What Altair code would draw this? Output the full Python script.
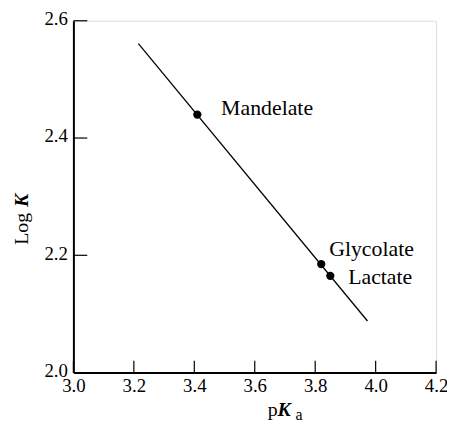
import altair as alt
import pandas as pd

# data
names = ["Mandelate", "Glycolate", "Lactate"]
pka = [3.41, 3.82, 3.85]
logk = [2.44, 2.185, 2.165]
fit_x = [3.215, 3.973]
fit_y = [2.561, 2.088]
x_ticks = [3.0, 3.2, 3.4, 3.6, 3.8, 4.0, 4.2]
y_ticks = [2.0, 2.2, 2.4, 2.6]

pts = pd.DataFrame({"name": names, "pka": pka, "logk": logk})
fit = pd.DataFrame({"pka": fit_x, "logk": fit_y})
xt = pd.DataFrame({"v": x_ticks})
yt = pd.DataFrame({"v": y_ticks})

W, H = 366, 355
SERIF = "Liberation Serif"

xs = alt.Scale(domain=[3.0, 4.2], nice=False, zero=False)
ys = alt.Scale(domain=[2.0, 2.6], nice=False, zero=False)

xaxis = alt.Axis(values=x_ticks, format=".1f", title=None, grid=False, tickSize=0,
                 labelFont=SERIF, labelFontSize=19, labelColor="black", labelPadding=4,
                 domainColor="black", domainWidth=2, labelFlush=False, labelOverlap=False)
yaxis = alt.Axis(values=y_ticks, format=".1f", title=None, grid=False, tickSize=0,
                 labelFont=SERIF, labelFontSize=19, labelColor="black", labelPadding=6,
                 labelOffset=-2,
                 domainColor="black", domainWidth=2, labelFlush=False, labelOverlap=False)

line = alt.Chart(fit).mark_line(color="black", strokeWidth=1.3).encode(
    x=alt.X("pka:Q", scale=xs, axis=xaxis),
    y=alt.Y("logk:Q", scale=ys, axis=yaxis),
)

points = alt.Chart(pts).mark_point(filled=True, color="black", size=70, opacity=1).encode(
    x=alt.X("pka:Q", scale=xs),
    y=alt.Y("logk:Q", scale=ys),
)

xtick_rules = alt.Chart(xt).mark_rule(color="black", strokeWidth=1.2).encode(
    x=alt.X("v:Q", scale=xs),
    y=alt.value(H - 12),
    y2=alt.value(H),
)
ytick_rules = alt.Chart(yt).mark_rule(color="black", strokeWidth=1.2).encode(
    y=alt.Y("v:Q", scale=ys),
    x=alt.value(0),
    x2=alt.value(14),
)

offsets = {"Mandelate": (24, 0), "Glycolate": (8, -8), "Lactate": (18, 8)}
labels = []
for n in names:
    dx, dy = offsets[n]
    labels.append(
        alt.Chart(pts).transform_filter(alt.datum.name == n).mark_text(
            font=SERIF, fontSize=22, color="black", align="left", baseline="alphabetic",
            dx=dx, dy=dy,
        ).encode(
            x=alt.X("pka:Q", scale=xs),
            y=alt.Y("logk:Q", scale=ys),
            text="name:N",
        )
    )

# axis titles with mixed styles
def txt(s, x, y, **kw):
    return alt.Chart(pd.DataFrame({"t": [s]})).mark_text(
        font=SERIF, color="black", baseline="alphabetic", align="left", **kw
    ).encode(text="t:N", x=alt.value(x), y=alt.value(y))

titles = [
    txt("p", 196, 399, fontSize=20),
    txt("K", 206, 399, fontSize=20, fontStyle="italic", fontWeight="bold"),
    txt("a", 224, 403, fontSize=16),
    txt("Log", -46, 226, fontSize=20, angle=270),
    txt("K", -46, 188, fontSize=20, angle=270, fontStyle="italic", fontWeight="bold"),
]

chart = alt.layer(line, xtick_rules, ytick_rules, points, *labels, *titles).properties(
    width=W, height=H,
    autosize=alt.AutoSizeParams(type="none"),
    padding={"left": 66, "top": 11, "right": 11, "bottom": 48},
).configure_view(stroke=None).configure(background="white")

chart.save("out.html", embed_options={"renderer": "svg", "actions": False})
